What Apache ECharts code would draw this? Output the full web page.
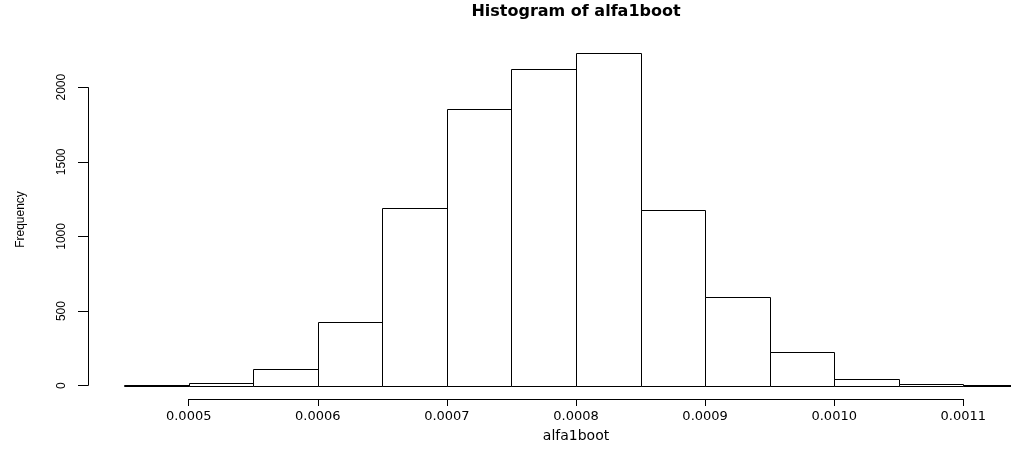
<!DOCTYPE html>
<html>
<head>
<meta charset="utf-8">
<script src="https://cdn.jsdelivr.net/npm/echarts@6/dist/echarts.min.js"></script>
<style>
html,body{margin:0;padding:0;background:#ffffff;}
#chart{width:1011px;height:449px;}
</style>
</head>
<body>
<div id="chart"></div>
<script>
// ---- data ----
const binEdges = [0.00045, 0.00050, 0.00055, 0.00060, 0.00065, 0.00070, 0.00075, 0.00080,
                  0.00085, 0.00090, 0.00095, 0.00100, 0.00105, 0.00110, 0.00115];
const frequencies = [3, 20, 115, 424, 1189, 1851, 2122, 2227, 1178, 592, 225, 48, 9, 3];
const xTickValues = [0.0005, 0.0006, 0.0007, 0.0008, 0.0009, 0.0010, 0.0011];
const xTickLabels = ['0.0005', '0.0006', '0.0007', '0.0008', '0.0009', '0.0010', '0.0011'];
const yTickValues = [0, 500, 1000, 1500, 2000];
const yTickLabels = ['0', '500', '1000', '1500', '2000'];
const chartTitle = 'Histogram of alfa1boot';
const xName = 'alfa1boot';
const yName = 'Frequency';

// ---- layout (R-style 4% axis extension; plot region runs past the right edge) ----
const gridBox = {left: 88, right: 0, top: 40, bottom: 50};
const plotOverflowRight = 53;   // px of the R plot region cut off at the right edge

const xSpan = binEdges[binEdges.length - 1] - binEdges[0];
const xMin = binEdges[0] - 0.04 * xSpan;
const xFullMax = binEdges[binEdges.length - 1] + 0.04 * xSpan;
const yTop = Math.max.apply(null, frequencies);
const yMin = -0.04 * yTop;
const yMax = 1.04 * yTop;

const bars = frequencies.map((f, i) => [binEdges[i], binEdges[i + 1], f]);

function labelFor(values, labels, v) {
  let best = 0, d = Infinity;
  values.forEach((t, i) => { const dd = Math.abs(t - v); if (dd < d) { d = dd; best = i; } });
  return labels[best];
}
const snap = v => Math.round(v) + 0.5;

const chart = echarts.init(document.getElementById('chart'), null, {renderer: 'canvas'});
const W = chart.getWidth();
const visibleW = W - gridBox.left - gridBox.right;
const fullW = visibleW + plotOverflowRight;
const xMax = xMin + (xFullMax - xMin) * visibleW / fullW;
const centerX = gridBox.left + fullW / 2;

const option = {
  animation: false,
  backgroundColor: '#ffffff',
  graphic: [{
    type: 'text',
    x: centerX,
    y: 12,
    style: {
      text: chartTitle,
      textAlign: 'center',
      textVerticalAlign: 'middle',
      fill: '#000',
      font: 'bold 16px "DejaVu Sans", sans-serif'
    }
  }, {
    type: 'text',
    x: centerX,
    y: 436,
    style: {
      text: xName,
      textAlign: 'center',
      textVerticalAlign: 'middle',
      fill: '#000',
      font: '14px "DejaVu Sans", sans-serif'
    }
  }],
  grid: {left: gridBox.left, right: gridBox.right, top: gridBox.top, bottom: gridBox.bottom, containLabel: false},
  xAxis: {
    type: 'value',
    min: xMin,
    max: xMax,
    axisLine: {show: false, onZero: false},
    splitLine: {show: false},
    axisTick: {
      show: true, inside: false, length: 7,
      customValues: xTickValues,
      lineStyle: {color: '#000', width: 1}
    },
    axisLabel: {
      show: true,
      customValues: xTickValues,
      margin: 11,
      color: '#000',
      fontFamily: '"DejaVu Sans", sans-serif',
      fontSize: 13,
      formatter: v => labelFor(xTickValues, xTickLabels, v)
    }
  },
  yAxis: {
    type: 'value',
    min: yMin,
    max: yMax,
    axisLine: {show: false, onZero: false},
    splitLine: {show: false},
    axisTick: {
      show: true, inside: false, length: 10,
      customValues: yTickValues,
      lineStyle: {color: '#000', width: 1}
    },
    axisLabel: {
      show: true,
      customValues: yTickValues,
      rotate: 90,
      margin: 20,
      color: '#000',
      fontFamily: '"Liberation Sans", Arial, sans-serif',
      fontSize: 12,
      formatter: v => labelFor(yTickValues, yTickLabels, v)
    },
    name: yName,
    nameLocation: 'middle',
    nameRotate: 90,
    nameGap: 61,
    nameTextStyle: {color: '#000', fontFamily: '"Liberation Sans", Arial, sans-serif', fontSize: 12}
  },
  series: [
    {
      type: 'custom',
      name: 'bars',
      clip: true,
      data: bars,
      encode: {x: [0, 1], y: 2},
      renderItem: function (params, api) {
        const p0 = api.coord([api.value(0), 0]);
        const p1 = api.coord([api.value(1), api.value(2)]);
        const x0 = snap(p0[0]), x1 = snap(p1[0]);
        const yb = snap(p0[1]), yt = snap(p1[1]);
        return {
          type: 'rect',
          shape: {x: x0, y: yt, width: x1 - x0, height: yb - yt},
          style: {fill: '#ffffff', stroke: '#000000', lineWidth: 1}
        };
      }
    },
    {
      type: 'custom',
      name: 'xAxisLine',
      clip: false,
      silent: true,
      data: [[xTickValues[0], xTickValues[xTickValues.length - 1]]],
      encode: {x: [0, 1]},
      renderItem: function (params, api) {
        const a = api.coord([api.value(0), yMin]);
        const b = api.coord([api.value(1), yMin]);
        const y = snap(a[1]);
        return {type: 'line', shape: {x1: a[0], y1: y, x2: b[0], y2: y},
                style: {stroke: '#000', lineWidth: 1}};
      }
    },
    {
      type: 'custom',
      name: 'yAxisLine',
      clip: false,
      silent: true,
      data: [[yTickValues[0], yTickValues[yTickValues.length - 1]]],
      encode: {y: [0, 1]},
      renderItem: function (params, api) {
        const a = api.coord([xMin, api.value(0)]);
        const b = api.coord([xMin, api.value(1)]);
        const x = snap(a[0]);
        return {type: 'line', shape: {x1: x, y1: a[1], x2: x, y2: b[1]},
                style: {stroke: '#000', lineWidth: 1}};
      }
    }
  ]
};
chart.setOption(option);
</script>
</body>
</html>
